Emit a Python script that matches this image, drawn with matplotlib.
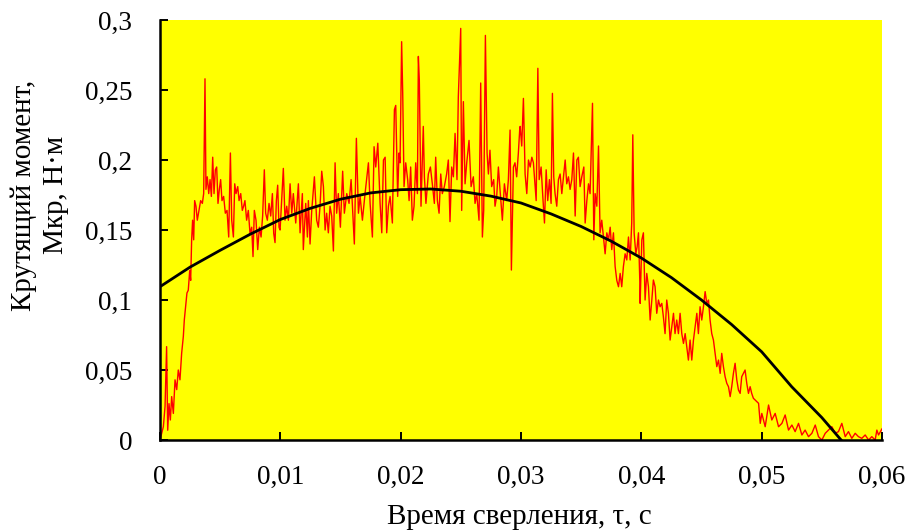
import matplotlib.pyplot as plt

# ---------------- data ----------------
# measured torque, N*m, vs drilling time, s
time_s = [
    0.0, 0.00028, 0.00042, 0.00055, 0.00064, 0.00075, 0.00086, 0.00097, 0.00111, 0.00125,
    0.00139, 0.00152, 0.00166, 0.0018, 0.00194, 0.00202, 0.00213, 0.00224, 0.00235, 0.00247,
    0.00255, 0.00263, 0.00271, 0.0028, 0.00288, 0.00299, 0.0031, 0.00324, 0.00338, 0.00352,
    0.00363, 0.00374, 0.00382, 0.00393, 0.00405, 0.00416, 0.00427, 0.00438, 0.00449, 0.0046,
    0.00471, 0.00482, 0.00493, 0.00504, 0.00515, 0.00529, 0.00543, 0.00557, 0.00571, 0.00585,
    0.00596, 0.0061, 0.00621, 0.00632, 0.00646, 0.00657, 0.00671, 0.00684, 0.00695, 0.00706,
    0.0072, 0.00734, 0.00748, 0.00762, 0.00773, 0.00784, 0.00798, 0.00812, 0.00826, 0.0084,
    0.00853, 0.00867, 0.00878, 0.00892, 0.00906, 0.0092, 0.00934, 0.00945, 0.00956, 0.00967,
    0.00978, 0.00989,
    0.00998, 0.01011, 0.01025, 0.01039, 0.01053, 0.01067, 0.01081, 0.01095, 0.01108, 0.01128,
    0.0115, 0.01164, 0.01183, 0.01191, 0.01211, 0.01225, 0.01233, 0.01247, 0.01261, 0.01283,
    0.01302, 0.01316, 0.0133, 0.01344, 0.01358, 0.01372, 0.01385, 0.01399, 0.01413, 0.01427,
    0.01441, 0.01455, 0.01468, 0.01482, 0.01499, 0.01518, 0.01532, 0.01552, 0.01571, 0.01588,
    0.01599, 0.01615, 0.01632, 0.01649, 0.01663, 0.01682, 0.01704, 0.01732, 0.01746, 0.01765,
    0.01779, 0.01793, 0.0181, 0.01829, 0.01843, 0.01857, 0.01871, 0.01884, 0.01898, 0.01912,
    0.01931, 0.01948, 0.01959, 0.01975, 0.01986,
    0.01995, 0.02008, 0.02017, 0.02028, 0.02042, 0.02058, 0.0207, 0.02083, 0.02097, 0.02111,
    0.02125, 0.02139, 0.02147, 0.02155, 0.02169, 0.02188, 0.02197, 0.0221, 0.0223, 0.02247,
    0.02263, 0.0228, 0.02291, 0.02305, 0.02319, 0.02333, 0.02346, 0.02363, 0.02382, 0.02396,
    0.0241, 0.02424, 0.02438, 0.02452, 0.02468, 0.02479, 0.02499, 0.02507, 0.02521, 0.02535,
    0.02549, 0.02568, 0.02585, 0.02604, 0.02618, 0.02632, 0.02651, 0.02665, 0.02679, 0.0269,
    0.02704, 0.02718, 0.02729, 0.02742, 0.02756, 0.02773, 0.02784, 0.02798, 0.02812, 0.02828,
    0.02845, 0.02862, 0.02881, 0.02895, 0.02909, 0.0292, 0.02937, 0.0295, 0.02964, 0.02978,
    0.02989,
    0.02993, 0.03006, 0.0302, 0.03034, 0.03048, 0.03062, 0.03076, 0.0309, 0.03103, 0.03117,
    0.03126, 0.0314, 0.03151, 0.03167, 0.03181, 0.03195, 0.03209, 0.03222, 0.03236, 0.0325,
    0.03261, 0.03272, 0.03283, 0.03297, 0.03311, 0.03325, 0.03339, 0.03353, 0.03367, 0.0338,
    0.03394, 0.03408, 0.03422, 0.03436, 0.0345, 0.03464, 0.03477, 0.03491, 0.03505, 0.03522,
    0.03533, 0.03547, 0.03561, 0.03574, 0.03594, 0.03605, 0.03616, 0.0363, 0.03644, 0.03657,
    0.03671, 0.03685, 0.03699, 0.03713, 0.03727, 0.03741, 0.03754, 0.03768, 0.03782, 0.03796,
    0.0381, 0.03824, 0.03837, 0.03851, 0.03865, 0.03879, 0.03893, 0.03907, 0.0392, 0.03929,
    0.0394, 0.03954, 0.03965, 0.03976, 0.03987,
    0.0399, 0.04004, 0.04017, 0.04031, 0.04045, 0.04059, 0.04073, 0.04087, 0.041, 0.04114,
    0.04128, 0.04142, 0.04156, 0.0417, 0.04183, 0.04197, 0.04211, 0.04225, 0.04239, 0.04253,
    0.04267, 0.0428, 0.04294, 0.04308, 0.04322, 0.04336, 0.0435, 0.04364, 0.04377, 0.04391,
    0.04405, 0.04419, 0.04433, 0.04447, 0.04461, 0.04474, 0.04488, 0.04502, 0.04516, 0.0453,
    0.04544, 0.04558, 0.04571, 0.04585, 0.04599, 0.04613, 0.04627, 0.04641, 0.04655, 0.04668,
    0.04682, 0.04696, 0.0471, 0.04724, 0.04738, 0.04751, 0.04765, 0.04779, 0.04793, 0.04807,
    0.04821, 0.04834, 0.04848, 0.04862, 0.04876, 0.0489, 0.04904, 0.04917, 0.04931,
    0.04974, 0.04988, 0.05001, 0.05029, 0.05057, 0.05084, 0.05112, 0.0514, 0.05168, 0.05195,
    0.05223, 0.05251, 0.05278, 0.05306, 0.05334, 0.05361, 0.05389, 0.05417, 0.05445, 0.05472,
    0.055, 0.05528, 0.05555, 0.05583, 0.05611, 0.05638, 0.05666, 0.05694, 0.05721, 0.05749,
    0.05777, 0.05804, 0.05832, 0.0586, 0.05888, 0.05915, 0.05943, 0.05957, 0.05971, 0.06,
]
torque = [
    0.0, 0.0095, 0.024, 0.0667, 0.007, 0.026, 0.0143, 0.031, 0.019, 0.043,
    0.036, 0.05, 0.043, 0.062, 0.074, 0.0857, 0.095, 0.105, 0.107, 0.121,
    0.114, 0.143, 0.157, 0.143, 0.171, 0.167, 0.157, 0.164, 0.171, 0.169,
    0.176, 0.258, 0.179, 0.188, 0.176, 0.186, 0.174, 0.202, 0.176, 0.193,
    0.195, 0.169, 0.179, 0.186, 0.171, 0.174, 0.162, 0.164, 0.145, 0.205,
    0.157, 0.145, 0.183, 0.176, 0.181, 0.171, 0.176, 0.164, 0.167, 0.171,
    0.157, 0.164, 0.1476, 0.152, 0.131, 0.164, 0.157, 0.136, 0.152, 0.145,
    0.16, 0.193, 0.162, 0.157, 0.169, 0.16, 0.176, 0.1476, 0.141, 0.171,
    0.182, 0.152,
    0.15, 0.171, 0.194, 0.157, 0.167, 0.157, 0.183, 0.162, 0.176, 0.155,
    0.183, 0.148, 0.176, 0.136, 0.169, 0.145, 0.171, 0.14, 0.164, 0.188,
    0.157, 0.152, 0.167, 0.192, 0.181, 0.15, 0.162, 0.148, 0.167, 0.16,
    0.135, 0.198, 0.162, 0.176, 0.152, 0.192, 0.162, 0.176, 0.169, 0.186,
    0.167, 0.14, 0.2155, 0.162, 0.174, 0.157, 0.176, 0.198, 0.169, 0.145,
    0.2095, 0.195, 0.212, 0.169, 0.148, 0.2, 0.202, 0.148, 0.167, 0.174,
    0.155, 0.236, 0.239, 0.174, 0.205,
    0.198, 0.2845, 0.2476, 0.181, 0.198, 0.186, 0.171, 0.195, 0.157, 0.167,
    0.198, 0.176, 0.274, 0.257, 0.167, 0.224, 0.188, 0.169, 0.19, 0.195,
    0.183, 0.169, 0.202, 0.171, 0.162, 0.19, 0.176, 0.181, 0.19, 0.2,
    0.156, 0.195, 0.188, 0.219, 0.186, 0.245, 0.294, 0.164, 0.2417, 0.183,
    0.198, 0.214, 0.181, 0.188, 0.169, 0.176, 0.157, 0.255, 0.145, 0.164,
    0.289, 0.205, 0.19, 0.207, 0.181, 0.186, 0.167, 0.174, 0.195, 0.176,
    0.157, 0.183, 0.171, 0.186, 0.2214, 0.1214, 0.195, 0.198, 0.188, 0.205,
    0.2214,
    0.224, 0.21, 0.244, 0.19, 0.176, 0.2, 0.195, 0.202, 0.198, 0.181,
    0.171, 0.2655, 0.186, 0.195, 0.174, 0.155, 0.193, 0.171, 0.186, 0.169,
    0.2476, 0.188, 0.176, 0.167, 0.186, 0.19, 0.176, 0.188, 0.2, 0.183,
    0.188, 0.179, 0.186, 0.205, 0.16, 0.2, 0.202, 0.181, 0.188, 0.195,
    0.155, 0.171, 0.183, 0.176, 0.2405, 0.143, 0.176, 0.167, 0.21, 0.148,
    0.157, 0.145, 0.133, 0.148, 0.143, 0.152, 0.136, 0.148, 0.124, 0.114,
    0.1095, 0.119, 0.1095, 0.124, 0.133, 0.1286, 0.145, 0.1286, 0.155, 0.218,
    0.148, 0.133, 0.138, 0.148, 0.114,
    0.0976, 0.143, 0.148, 0.1, 0.119, 0.1095, 0.0857, 0.1, 0.1143, 0.1095,
    0.0905, 0.1, 0.0952, 0.0976, 0.088, 0.076, 0.1, 0.0905, 0.0714, 0.081,
    0.0905, 0.076, 0.0857, 0.076, 0.0905, 0.076, 0.069, 0.076, 0.0667, 0.0571,
    0.0714, 0.0571, 0.0714, 0.081, 0.0905, 0.076, 0.0952, 0.0857, 0.0952, 0.106,
    0.0976, 0.1, 0.0857, 0.076, 0.0714, 0.0619, 0.0524, 0.0571, 0.0476, 0.0619,
    0.0524, 0.0452, 0.0405, 0.0381, 0.031, 0.0381, 0.0476, 0.0548, 0.0429, 0.0357,
    0.0333, 0.0452, 0.0476, 0.05, 0.0405, 0.0333, 0.0381, 0.0333, 0.0298,
    0.0262, 0.0119, 0.019, 0.0095, 0.025, 0.0143, 0.019, 0.0095, 0.0119, 0.0179,
    0.0071, 0.0107, 0.006, 0.0119, 0.0036, 0.0071, 0.0024, 0.0048, 0.0107, 0.0024,
    0.0, 0.0048, 0.0071, 0.0095, 0.0048, 0.006, 0.0119, 0.0024, 0.006, 0.0012,
    0.0048, 0.0024, 0.0012, 0.0036, 0.0, 0.0024, 0.0, 0.0071, 0.0036, 0.008,
]

# trend line drawn over the measurement
trend_t = [0.0, 0.0025, 0.005, 0.0075, 0.01, 0.0125, 0.015, 0.0175, 0.02, 0.0225,
           0.025, 0.0275, 0.03, 0.0325, 0.035, 0.0375, 0.04, 0.0425, 0.045, 0.0475,
           0.05, 0.0525, 0.055, 0.0566]
trend_m = [0.1095, 0.1235, 0.1355, 0.147, 0.1575, 0.1655, 0.172, 0.1765, 0.1788, 0.1793,
           0.1777, 0.1742, 0.1693, 0.1615, 0.1525, 0.142, 0.13, 0.116, 0.1, 0.0825,
           0.063, 0.038, 0.016, 0.0]

x_ticks = [0, 0.01, 0.02, 0.03, 0.04, 0.05, 0.06]
x_labels = ['0', '0,01', '0,02', '0,03', '0,04', '0,05', '0,06']
y_ticks = [0, 0.05, 0.1, 0.15, 0.2, 0.25, 0.3]
y_labels = ['0', '0,05', '0,1', '0,15', '0,2', '0,25', '0,3']

# ---------------------- plot ----------------------
plt.rcParams['font.family'] = ['Liberation Serif', 'DejaVu Serif']

fig = plt.figure(figsize=(9.08, 5.32), dpi=100)
ax = fig.add_axes([0.1762, 0.1729, 0.7952, 0.7895])
ax.set_facecolor('#ffff00')

ax.plot(time_s, torque, color='#ff0000', lw=1.0)
ax.plot(trend_t, trend_m, color='black', lw=2.0)

ax.set_xlim(0, 0.06)
ax.set_ylim(0, 0.3)
ax.set_xticks(x_ticks)
ax.set_xticklabels(x_labels)
ax.set_yticks(y_ticks)
ax.set_yticklabels(y_labels)

for side in ('top', 'right'):
    ax.spines[side].set_visible(False)
for side in ('left', 'bottom'):
    ax.spines[side].set_linewidth(1.8)

ax.tick_params(axis='both', direction='in', length=6, width=1.4, labelsize=19.5)
ax.tick_params(axis='y', pad=20)
ax.tick_params(axis='x', pad=18)

# axis titles placed by hand, as in the original
fig.text(519 / 908, 8 / 532, 'Время сверления, τ, с', fontsize=21,
         ha='center', va='baseline')
fig.text(40 / 908, (532 - 195) / 532, 'Крутящий момент,\nМкр, Н·м', fontsize=21,
         rotation=90, ha='center', va='center', multialignment='center',
         linespacing=1.3)

fig.savefig('out.png', dpi=100)
